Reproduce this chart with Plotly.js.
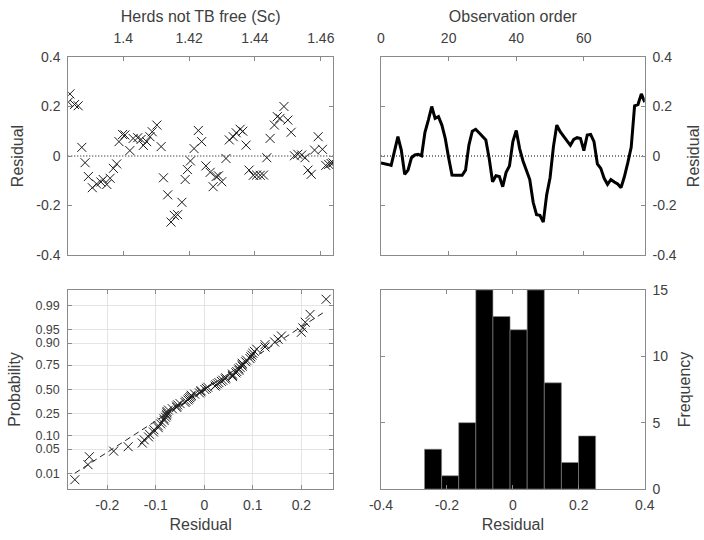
<!DOCTYPE html>
<html>
<head>
<meta charset="utf-8">
<script src="https://cdn.plot.ly/plotly-3.0.1.min.js"></script>
<style>html,body{margin:0;padding:0;background:#fff;}#chart{width:704px;height:540px;}</style>
</head>
<body>
<div id="chart"></div>
<script>
// ---- data (in observation order) ----
const herdsNotTBFree = [1.4637,1.4631,1.4624,1.4615,1.4605,1.4592,1.4581,1.4571,1.4561,1.4552,
  1.4542,1.4530,1.4520,1.4510,1.4500,1.4488,1.4476,1.4468,1.4459,1.4446,
  1.4436,1.4426,1.4416,1.4405,1.4395,1.4382,1.4373,1.4363,1.4355,1.4343,
  1.4334,1.4322,1.4312,1.4299,1.4289,1.4282,1.4273,1.4264,1.4251,1.4238,
  1.4228,1.4215,1.4204,1.4195,1.4188,1.4178,1.4165,1.4155,1.4145,1.4135,
  1.4122,1.4115,1.4102,1.4088,1.4081,1.4071,1.4061,1.4054,1.4044,1.4030,
  1.4020,1.4005,1.3998,1.3987,1.3980,1.3970,1.3960,1.3950,1.3939,1.3932,
  1.3919,1.3906,1.3894,1.3884,1.3874,1.3863,1.3852,1.3838,1.3833];
const residual = [-0.028,-0.030,-0.034,-0.038,0.027,0.078,0.024,-0.074,-0.057,-0.007,
  0.004,0.007,0.001,0.096,0.145,0.200,0.152,0.159,0.125,0.071,
  -0.007,-0.077,-0.078,-0.077,-0.078,-0.057,0.044,0.100,0.108,0.094,
  0.078,0.065,-0.010,-0.104,-0.080,-0.083,-0.124,-0.066,-0.040,0.058,
  0.103,0.030,-0.020,-0.055,-0.095,-0.187,-0.237,-0.240,-0.267,-0.157,
  -0.088,0.038,0.125,0.098,0.078,0.058,0.043,0.067,0.074,0.071,
  0.022,0.085,0.087,0.058,-0.032,-0.050,-0.090,-0.115,-0.095,-0.105,
  -0.113,-0.128,-0.083,-0.027,0.035,0.203,0.208,0.251,0.218];
const histBinCenters = [-0.2421,-0.1902,-0.1383,-0.0864,-0.0345,0.0175,0.0694,0.1213,0.1732,0.2251];
const histCounts = [3,1,5,15,13,12,15,8,2,4];
const histBinWidth = 0.0519;

const residTicks = [-0.4,-0.2,0,0.2,0.4];
const residTickText = ['-0.4','-0.2','0','0.2','0.4'];
const herdsTicks = [1.4,1.42,1.44,1.46];
const herdsTickText = ['1.4','1.42','1.44','1.46'];
const orderTicks = [0,20,40,60];
const probTicks = [0.01,0.05,0.10,0.25,0.50,0.75,0.90,0.95,0.99];
const probTickText = ['0.01','0.05','0.10','0.25','0.50','0.75','0.90','0.95','0.99'];
const qqXTicks = [-0.2,-0.1,0,0.1,0.2];
const qqXTickText = ['-0.2','-0.1','0','0.1','0.2'];
const freqTicks = [0,5,10,15];

// ---- helpers ----
function norminv(p){
  const a=[-3.969683028665376e+01,2.209460984245205e+02,-2.759285104469687e+02,1.383577518672690e+02,-3.066479806614716e+01,2.506628277459239e+00];
  const b=[-5.447609879822406e+01,1.615858368580409e+02,-1.556989798598866e+02,6.680131188771972e+01,-1.328068155288572e+01];
  const c=[-7.784894002430293e-03,-3.223964580411365e-01,-2.400758277161838e+00,-2.549732539343734e+00,4.374664141464968e+00,2.938163982698783e+00];
  const d=[7.784695709041462e-03,3.224671290700398e-01,2.445134137142996e+00,3.754408661907416e+00];
  const pl=0.02425, ph=1-pl;
  if(p<pl){const q=Math.sqrt(-2*Math.log(p));return (((((c[0]*q+c[1])*q+c[2])*q+c[3])*q+c[4])*q+c[5])/((((d[0]*q+d[1])*q+d[2])*q+d[3])*q+1);}
  if(p<=ph){const q=p-0.5,r=q*q;return (((((a[0]*r+a[1])*r+a[2])*r+a[3])*r+a[4])*r+a[5])*q/(((((b[0]*r+b[1])*r+b[2])*r+b[3])*r+b[4])*r+1);}
  const q=Math.sqrt(-2*Math.log(1-p));return -(((((c[0]*q+c[1])*q+c[2])*q+c[3])*q+c[4])*q+c[5])/((((d[0]*q+d[1])*q+d[2])*q+d[3])*q+1);
}
function quantile(sorted,p){ // MATLAB prctile style
  const n=sorted.length; const pos=n*p+0.5;
  if(pos<1) return sorted[0]; if(pos>=n) return sorted[n-1];
  const lo=Math.floor(pos); const f=pos-lo;
  return sorted[lo-1]+f*(sorted[lo]-sorted[lo-1]);
}

const obsOrder = residual.map((_,i)=>i);
const hMin = Math.min(...herdsNotTBFree), hMax = Math.max(...herdsNotTBFree);
const sorted = residual.slice().sort((u,v)=>u-v);
const n = sorted.length;
const zPos = sorted.map((_,i)=>norminv((i+0.5)/n));
const q1 = quantile(sorted,0.25), q3 = quantile(sorted,0.75);
const z1 = norminv(0.25), z3 = norminv(0.75);
const slope = (z3-z1)/(q3-q1);
const lineZ = x => z1 + slope*(x-q1);
const xMin = sorted[0], xMax = sorted[n-1];

const ink = '#1a1a1a';
const xMark = {symbol:'x-thin', size:9, color:ink, line:{width:1, color:ink}};

const traces = [
  {x:[hMin,hMax], y:[0,0], xaxis:'x', yaxis:'y', mode:'lines', line:{color:'#000', width:1, dash:'1px,2px'}, hoverinfo:'skip'},
  {x:herdsNotTBFree, y:residual, xaxis:'x', yaxis:'y', mode:'markers', marker:xMark},
  {x:[0,obsOrder[obsOrder.length-1]], y:[0,0], xaxis:'x2', yaxis:'y2', mode:'lines', line:{color:'#000', width:1, dash:'1px,2px'}, hoverinfo:'skip'},
  {x:obsOrder, y:residual, xaxis:'x2', yaxis:'y2', mode:'lines', line:{color:'#000', width:3}},
  {x:[xMin,q1], y:[lineZ(xMin),lineZ(q1)], xaxis:'x3', yaxis:'y3', mode:'lines', line:{color:'#222', width:1, dash:'6px,4px'}},
  {x:[q1,q3], y:[lineZ(q1),lineZ(q3)], xaxis:'x3', yaxis:'y3', mode:'lines', line:{color:'#222', width:1}},
  {x:[q3,xMax], y:[lineZ(q3),lineZ(xMax)], xaxis:'x3', yaxis:'y3', mode:'lines', line:{color:'#222', width:1, dash:'6px,4px'}},
  {x:sorted, y:zPos, xaxis:'x3', yaxis:'y3', mode:'markers', marker:xMark},
  {type:'bar', x:histBinCenters, y:histCounts, width:histBinCenters.map(()=>histBinWidth), xaxis:'x4', yaxis:'y4',
   marker:{color:'#000', line:{color:'#8a8a8a', width:0.6}}}
];

const font = {family:'"Liberation Sans", Arial, sans-serif', size:14, color:'#404040'};
const axBase = {showline:true, linecolor:'#8a8a8a', linewidth:1, mirror:'allticks', ticks:'inside', ticklen:4,
  tickcolor:'#8a8a8a', zeroline:false, showgrid:false, tickfont:{size:14, color:'#404040'}, fixedrange:true};
const tFont = {size:16, color:'#404040'};
const dxL=[0.0970,0.4730], dxR=[0.5412,0.9158], dyT=[0.5278,0.8944], dyB=[0.0944,0.4630];

const layout = {
  width:704, height:540, margin:{l:0,r:0,t:0,b:0}, paper_bgcolor:'#fff', plot_bgcolor:'#fff',
  font:font, showlegend:false, bargap:0,
  xaxis:Object.assign({}, axBase, {domain:dxL, anchor:'y', side:'top', range:[hMin,hMax], tickvals:herdsTicks, ticktext:herdsTickText,
    ticklabelstandoff:7, title:{text:'Herds not TB free (Sc)', font:tFont, standoff:3}}),
  yaxis:Object.assign({}, axBase, {domain:dyT, anchor:'x', range:[-0.4,0.4], tickvals:residTicks, ticktext:residTickText,
    ticklabelstandoff:4, title:{text:'Residual', font:tFont, standoff:8}}),
  xaxis2:Object.assign({}, axBase, {domain:dxR, anchor:'y2', side:'top', range:[0,obsOrder[obsOrder.length-1]], tickvals:orderTicks,
    ticklabelstandoff:7, title:{text:'Observation order', font:tFont, standoff:3}}),
  yaxis2:Object.assign({}, axBase, {domain:dyT, anchor:'x2', side:'right', range:[-0.4,0.4], tickvals:residTicks, ticktext:residTickText,
    ticklabelstandoff:4, title:{text:'Residual', font:tFont, standoff:11}}),
  xaxis3:Object.assign({}, axBase, {domain:dxL, anchor:'y3', range:[-0.2805,0.2652], tickvals:qqXTicks, ticktext:qqXTickText,
    showgrid:true, gridcolor:'#e4e4e4', ticklabelstandoff:3, title:{text:'Residual', font:tFont, standoff:6}}),
  yaxis3:Object.assign({}, axBase, {domain:dyB, anchor:'x3', range:[-2.75,2.75], tickvals:probTicks.map(norminv), ticktext:probTickText,
    tickfont:{size:12.5, color:'#404040'},
    showgrid:true, gridcolor:'#e4e4e4', ticklabelstandoff:5, title:{text:'Probability', font:tFont, standoff:10}}),
  xaxis4:Object.assign({}, axBase, {domain:dxR, anchor:'y4', range:[-0.4,0.4], tickvals:residTicks, ticktext:residTickText,
    ticklabelstandoff:3, title:{text:'Residual', font:tFont, standoff:6}}),
  yaxis4:Object.assign({}, axBase, {domain:dyB, anchor:'x4', side:'right', range:[0,15], tickvals:freqTicks,
    ticklabelstandoff:4, title:{text:'Frequency', font:tFont, standoff:11}})
};

Plotly.newPlot('chart', traces, layout, {staticPlot:true, displayModeBar:false});
</script>
</body>
</html>
